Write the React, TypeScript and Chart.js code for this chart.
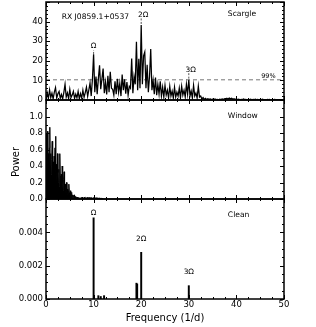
import React, { useEffect, useRef } from 'react';
import { Chart, registerables } from 'chart.js';

Chart.register(...registerables);

const W = 316;
const H = 327;
const FONT = '"DejaVu Sans", "Liberation Sans", sans-serif';

// ---- shared frequency axis ----
const X_MIN = 0;
const X_MAX = 50;
const X_MAJOR = 10;
const X_MINOR = 2.5;

// ---- Scargle periodogram (frequency grid 0..50 step 0.25) ----
const SCARGLE_STEP = 0.25;
const scarglePower = [
  1.0, 3.7, 0.8, 5.1,
  1.2, 3.5, 0.6, 4.0,
  6.3, 1.0, 3.2, 4.4,
  0.9, 2.8, 0.5, 3.9,
  8.0, 1.5, 3.6, 0.7,
  5.4, 1.2, 2.5, 4.4,
  0.8, 3.0, 1.1, 4.4,
  0.6, 3.3, 1.0, 5.0,
  1.4, 3.8, 6.6, 1.9,
  5.2, 8.7, 2.0, 10.5,
  23.3, 4.0, 12.0, 3.0,
  10.8, 17.7, 5.5, 10.8,
  16.0, 3.5, 9.0, 2.8,
  12.3, 4.0, 14.4, 6.0,
  5.5, 2.5, 9.6, 3.0,
  10.8, 4.0, 8.5, 2.0,
  13.0, 5.0, 10.6, 3.2,
  9.2, 2.5, 7.0, 6.0,
  21.1, 3.5, 12.0, 8.0,
  29.7, 5.0, 21.0, 6.0,
  38.2, 8.0, 22.5, 24.5,
  6.0, 18.0, 4.0, 12.0,
  26.0, 5.0, 10.0, 3.0,
  11.5, 2.5, 8.0, 3.0,
  9.5, 2.0, 6.5, 1.5,
  7.5, 2.5, 5.0, 1.0,
  7.0, 2.0, 4.5, 1.0,
  6.5, 1.5, 4.0, 2.0,
  6.0, 1.0, 7.0, 2.5,
  5.0, 1.5, 8.0, 3.0,
  10.3, 2.0, 4.5, 1.0,
  7.5, 2.0, 3.5, 1.0,
  7.0, 1.5, 2.0, 0.5,
  1.2, 0.3, 0.8, 0.2,
  0.6, 0.3, 0.5, 0.2,
  0.4, 0.15, 0.5, 0.2,
  0.3, 0.1, 0.4, 0.2,
  0.5, 0.3, 0.7, 0.4,
  0.9, 0.5, 1.0, 0.6,
  0.9, 0.4, 0.7, 0.3,
  0.5, 0.2, 0.4, 0.1,
  0.3, 0.2, 0.5, 0.2,
  0.3, 0.1, 0.3, 0.2,
  0.4, 0.1, 0.3, 0.2,
  0.4, 0.15, 0.3, 0.1,
  0.3, 0.2, 0.4, 0.1,
  0.2, 0.1, 0.3, 0.15,
  0.25, 0.1, 0.2, 0.1,
  0.3, 0.15, 0.2, 0.1,
  0.2, 0.1, 0.2, 0.1,
  0.15,
];
const SIG_LEVEL_99 = 10.3;

// ---- Spectral window (frequency grid 0..12 step 0.1) ----
const WINDOW_STEP = 0.1;
const windowPower = [
  0.80, 0.45, 0.60, 0.82, 0.40, 0.55, 0.35, 0.62, 0.87, 0.40,
  0.55, 0.30, 0.48, 0.70, 0.30, 0.45, 0.25, 0.52, 0.40, 0.62,
  0.76, 0.28, 0.42, 0.20, 0.55, 0.32, 0.20, 0.36, 0.15, 0.55,
  0.28, 0.14, 0.30, 0.10, 0.40, 0.20, 0.10, 0.24, 0.33, 0.12,
  0.18, 0.07, 0.15, 0.20, 0.07, 0.12, 0.05, 0.10, 0.18, 0.08,
  0.05, 0.10, 0.03, 0.07, 0.08, 0.02, 0.05, 0.02, 0.04, 0.05,
  0.02, 0.03, 0.01, 0.03, 0.02, 0.01, 0.02, 0.01, 0.015, 0.005,
  0.01, 0.01, 0.005, 0.015, 0.01, 0.02, 0.008, 0.015, 0.005, 0.012,
  0.02, 0.01, 0.015, 0.005, 0.02, 0.012, 0.008, 0.018, 0.01, 0.015,
  0.006, 0.012, 0.02, 0.01, 0.015, 0.005, 0.018, 0.012, 0.008, 0.015,
  0.01, 0.006, 0.012, 0.015, 0.005, 0.01, 0.014, 0.006, 0.011, 0.008,
  0.012, 0.005, 0.01, 0.008, 0.004, 0.009, 0.006, 0.008, 0.003, 0.006,
  0.004,
];

// ---- CLEAN spectrum ----
const cleanFreq = [10.0, 11.0, 11.5, 12.2, 19.0, 19.15, 20.0, 30.0];
const cleanPower = [0.00487, 0.0002, 0.00015, 0.0002, 0.00095, 0.0009, 0.0028, 0.0008];

// ---- harmonic annotations ----
const harmonicFreq = [10, 20, 30];
const harmonicLabel = ['Ω', '2Ω', '3Ω'];
const scargleLabelX = [10, 20.4, 30.4];
const scargleLabelY = [26.4, 42.5, 14.4];
const scargleMarkLow = [23.5, 38.8, 10.9];
const scargleMarkHigh = [25.5, 42.2, 13.9];
const cleanLabelY = [0.00504, 0.00348, 0.00148];

// ---- y axes ----
const scargleY = { max: 50, major: 10, minor: 2, decimals: 0 };
const windowY = { max: 1.2, major: 0.2, minor: 0.1, decimals: 1 };
const cleanY = { max: 0.006, major: 0.002, minor: 0.0005, decimals: 3 };

type TextItem = { x: number; y: number; text: string; size: number; align: CanvasTextAlign };

function panelPlugin(id: string, yAx: { major: number; minor: number }, texts: TextItem[], extra?: (c: any) => void) {
  return {
    id,
    afterDraw(chart: any) {
      const { ctx, chartArea: a, scales } = chart;
      const xs = scales.x;
      const ys = scales.y;
      ctx.save();
      ctx.strokeStyle = '#000';
      ctx.lineWidth = 1;
      ctx.setLineDash([]);
      const seg = (x1: number, y1: number, x2: number, y2: number) => {
        ctx.beginPath();
        ctx.moveTo(x1, y1);
        ctx.lineTo(x2, y2);
        ctx.stroke();
      };
      const isMajor = (v: number, m: number) => Math.abs(v / m - Math.round(v / m)) < 1e-6;
      const nx = Math.round((xs.max - xs.min) / X_MINOR);
      for (let i = 0; i <= nx; i++) {
        const v = xs.min + i * X_MINOR;
        const len = isMajor(v, X_MAJOR) ? 4 : 2;
        const px = Math.round(xs.getPixelForValue(v)) + 0.5;
        seg(px, a.bottom, px, a.bottom - len);
        seg(px, a.top, px, a.top + len);
      }
      const ny = Math.round((ys.max - ys.min) / yAx.minor);
      for (let i = 0; i <= ny; i++) {
        const v = ys.min + i * yAx.minor;
        const len = isMajor(v, yAx.major) ? 4 : 2;
        const py = Math.round(ys.getPixelForValue(v)) + 0.5;
        seg(a.left, py, a.left + len, py);
        seg(a.right, py, a.right - len, py);
      }
      ctx.lineWidth = 1.5;
      ctx.strokeRect(a.left, a.top, a.right - a.left, a.bottom - a.top);
      ctx.fillStyle = '#000';
      ctx.textBaseline = 'alphabetic';
      for (const t of texts) {
        ctx.font = `${t.size}px ${FONT}`;
        ctx.textAlign = t.align;
        ctx.fillText(t.text, xs.getPixelForValue(t.x), ys.getPixelForValue(t.y));
      }
      if (extra) extra(chart);
      ctx.restore();
    },
  };
}

function yScale(ax: { max: number; major: number; decimals: number }) {
  return {
    min: 0,
    max: ax.max,
    ticks: {
      stepSize: ax.major,
      padding: 3,
      color: '#000',
      font: { family: FONT, size: 8.5 },
      callback: (v: any) => (Math.abs(Number(v) - ax.max) < 1e-9 ? null : Number(v).toFixed(ax.decimals)),
    },
    grid: { display: false, drawTicks: false, tickLength: 0 },
    border: { display: false },
    afterFit: (s: any) => {
      s.width = 46;
      s.paddingTop = 0;
      s.paddingBottom = 0;
    },
  };
}

const hiddenX = { type: 'linear', min: X_MIN, max: X_MAX, display: false };

function baseOptions(padTop: number, padBottom: number) {
  return {
    animation: false,
    responsive: false,
    events: [],
    layout: { padding: { top: padTop, bottom: padBottom, left: 0, right: 32 } },
    plugins: { legend: { display: false }, tooltip: { enabled: false }, title: { display: false } },
  };
}

function topConfig(): any {
  const pts = scarglePower.map((p, i) => ({ x: i * SCARGLE_STEP, y: p }));
  const markers = harmonicFreq.map((f, i) => ({
    data: [{ x: f, y: scargleMarkLow[i] }, { x: f, y: scargleMarkHigh[i] }],
    borderColor: '#555',
    borderWidth: 1,
    borderDash: [2, 1.5],
    pointRadius: 0,
  }));
  const texts: TextItem[] = [
    { x: 3.3, y: 41.3, text: 'RX J0859.1+0537', size: 7.6, align: 'left' },
    { x: 38.2, y: 42.9, text: 'Scargle', size: 7.6, align: 'left' },
    { x: 45.2, y: 11.2, text: '99%', size: 6.5, align: 'left' },
    ...harmonicLabel.map((t, i) => ({ x: scargleLabelX[i], y: scargleLabelY[i], text: t, size: 7.4, align: 'center' as CanvasTextAlign })),
  ];
  return {
    type: 'line',
    data: {
      datasets: [
        { data: pts, borderColor: '#000', borderWidth: 1.25, pointRadius: 0, tension: 0 },
        {
          data: [{ x: X_MIN, y: SIG_LEVEL_99 }, { x: X_MAX, y: SIG_LEVEL_99 }],
          borderColor: '#777',
          borderWidth: 1,
          borderDash: [4, 3],
          pointRadius: 0,
        },
        ...markers,
      ],
    },
    options: {
      ...baseOptions(2, H - 100),
      scales: { x: hiddenX, y: yScale(scargleY) },
    },
    plugins: [panelPlugin('scarglePanel', scargleY, texts)],
  };
}

function midConfig(): any {
  const pts = windowPower.map((p, i) => ({ x: i * WINDOW_STEP, y: p }));
  const texts: TextItem[] = [{ x: 38.2, y: 0.978, text: 'Window', size: 7.6, align: 'left' }];
  const powerLabel = (chart: any) => {
    const ctx = chart.ctx;
    ctx.save();
    ctx.translate(16, 162);
    ctx.rotate(-Math.PI / 2);
    ctx.font = `10px ${FONT}`;
    ctx.textAlign = 'center';
    ctx.textBaseline = 'middle';
    ctx.fillStyle = '#000';
    ctx.fillText('Power', 0, 0);
    ctx.restore();
  };
  return {
    type: 'line',
    data: {
      datasets: [
        {
          data: pts,
          borderColor: '#000',
          backgroundColor: '#000',
          fill: 'origin',
          borderWidth: 1,
          pointRadius: 0,
          tension: 0,
        },
      ],
    },
    options: {
      ...baseOptions(100, H - 199),
      scales: { x: hiddenX, y: yScale(windowY) },
    },
    plugins: [panelPlugin('windowPanel', windowY, texts, powerLabel)],
  };
}

function botConfig(): any {
  const pts = cleanFreq.map((f, i) => ({ x: f, y: cleanPower[i] }));
  const texts: TextItem[] = [
    { x: 38.2, y: 0.0049, text: 'Clean', size: 7.6, align: 'left' },
    ...harmonicLabel.map((t, i) => ({ x: harmonicFreq[i], y: cleanLabelY[i], text: t, size: 7.4, align: 'center' as CanvasTextAlign })),
  ];
  return {
    type: 'bar',
    data: {
      datasets: [{ data: pts, backgroundColor: '#000', borderWidth: 0, barThickness: 1.3 }],
    },
    options: {
      ...baseOptions(199, 0),
      scales: {
        x: {
          type: 'linear',
          min: X_MIN,
          max: X_MAX,
          offset: false,
          ticks: {
            stepSize: X_MAJOR,
            padding: 1,
            color: '#000',
            maxRotation: 0,
            autoSkip: false,
            font: { family: FONT, size: 8.5 },
          },
          grid: { display: false, drawTicks: false, tickLength: 0 },
          border: { display: false },
          title: {
            display: true,
            text: 'Frequency (1/d)',
            color: '#000',
            font: { family: FONT, size: 10 },
            padding: { top: 0, bottom: 3 },
          },
          afterFit: (s: any) => {
            s.height = 28;
            s.paddingLeft = 0;
            s.paddingRight = 0;
          },
        },
        y: yScale(cleanY),
      },
    },
    plugins: [panelPlugin('cleanPanel', cleanY, texts)],
  };
}

export default function App() {
  const r1 = useRef<HTMLCanvasElement>(null);
  const r2 = useRef<HTMLCanvasElement>(null);
  const r3 = useRef<HTMLCanvasElement>(null);

  useEffect(() => {
    document.body.style.margin = '0';
    const charts = [
      new Chart(r1.current as HTMLCanvasElement, topConfig()),
      new Chart(r2.current as HTMLCanvasElement, midConfig()),
      new Chart(r3.current as HTMLCanvasElement, botConfig()),
    ];
    return () => charts.forEach((c) => c.destroy());
  }, []);

  const cs: React.CSSProperties = { position: 'absolute', left: 0, top: 0 };
  return (
    <div style={{ position: 'relative', width: W, height: H, background: '#fff' }}>
      <canvas ref={r1} width={W} height={H} style={cs} />
      <canvas ref={r2} width={W} height={H} style={cs} />
      <canvas ref={r3} width={W} height={H} style={cs} />
    </div>
  );
}
